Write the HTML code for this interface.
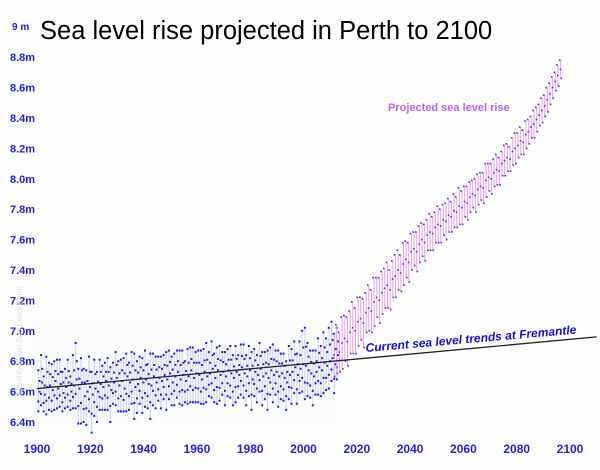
<!DOCTYPE html>
<html><head><meta charset="utf-8"><style>
html,body{margin:0;padding:0;background:#fff;}
svg{display:block;font-family:"Liberation Sans",sans-serif;}
</style></head><body>
<svg id="chart" width="600" height="470" viewBox="0 0 600 470">
<rect x="0" y="0" width="600" height="470" fill="#fefefe"/>
<rect x="30" y="316" width="305" height="110" fill="#fcfcfc"/>
<text x="40" y="39" font-size="25.5" fill="#000">Sea level rise projected in Perth to 2100</text>
<g id="yaxis"></g>
<g id="xaxis"></g>
<g id="hist"></g>
<g id="proj"></g>
<line id="trend" stroke="#222" stroke-width="1.3"/>
<text x="388" y="111" font-size="11" font-weight="bold" fill="#c060f0">Projected sea level rise</text>
<text x="366" y="352" font-size="12" font-weight="bold" font-style="italic" fill="#1010e0" transform="rotate(-5 366 352)">Current sea level trends at Fremantle</text>
<text x="22" y="395" font-size="8" fill="#ddd" transform="rotate(-90 22 395)">Monthly Mean Sea Level (mm)</text>
</svg>
<script>
const yTicks=[6.4,6.6,6.8,7.0,7.2,7.4,7.6,7.8,8.0,8.2,8.4,8.6,8.8];
const yLabels=["6.4m","6.6m","6.8m","7.0m","7.2m","7.4m","7.6m","7.8m","8.0m","8.2m","8.4m","8.6m","8.8m"];
const xTicks=[1900,1920,1940,1960,1980,2000,2020,2040,2060,2080,2100];
const histStart=1900;
const histMean=[6.60,6.66,6.58,6.63,6.64,6.61,6.67,6.62,6.65,6.59,
6.63,6.66,6.60,6.64,6.68,6.62,6.66,6.57,6.60,6.63,
6.58,6.62,6.60,6.65,6.63,6.67,6.64,6.61,6.66,6.69,
6.64,6.67,6.62,6.70,6.66,6.68,6.63,6.65,6.69,6.66,
6.68,6.65,6.64,6.70,6.66,6.69,6.67,6.71,6.68,6.72,
6.66,6.70,6.73,6.68,6.71,6.67,6.70,6.74,6.69,6.72,
6.71,6.68,6.73,6.70,6.72,6.75,6.69,6.74,6.71,6.73,
6.70,6.74,6.72,6.69,6.73,6.71,6.76,6.72,6.70,6.74,
6.68,6.73,6.71,6.75,6.70,6.72,6.69,6.74,6.71,6.73,
6.70,6.72,6.69,6.66,6.71,6.73,6.76,6.71,6.75,6.78,
6.77,6.74,6.72,6.70,6.73,6.76,6.74,6.79,6.77,6.80,
6.82,6.78,6.84];
const histHi=[0.14,0.18,0.12,0.20,0.15,0.17,0.13,0.19,0.16,0.14,
0.12,0.15,0.10,0.20,0.24,0.13,0.16,0.18,0.14,0.20,
0.15,0.19,0.13,0.16,0.14,0.12,0.18,0.15,0.13,0.17,
0.16,0.14,0.20,0.15,0.13,0.18,0.22,0.15,0.14,0.16,
0.19,0.13,0.21,0.15,0.17,0.14,0.16,0.13,0.18,0.15,
0.17,0.15,0.14,0.19,0.16,0.13,0.18,0.15,0.20,0.14,
0.16,0.19,0.15,0.22,0.14,0.18,0.16,0.15,0.19,0.13,
0.16,0.14,0.18,0.15,0.17,0.13,0.15,0.19,0.14,0.16,
0.18,0.15,0.13,0.17,0.16,0.14,0.18,0.15,0.20,0.14,
0.17,0.13,0.16,0.14,0.19,0.15,0.17,0.14,0.18,0.22,
0.25,0.18,0.15,0.17,0.14,0.19,0.16,0.20,0.18,0.22,
0.24,0.20,0.18];
const histLo=[0.13,0.15,0.11,0.18,0.16,0.14,0.19,0.13,0.15,0.12,
0.14,0.16,0.12,0.15,0.19,0.23,0.27,0.17,0.22,0.16,
0.25,0.18,0.20,0.17,0.15,0.19,0.16,0.21,0.14,0.18,
0.17,0.20,0.15,0.23,0.18,0.16,0.21,0.19,0.17,0.20,
0.18,0.16,0.22,0.19,0.17,0.15,0.18,0.16,0.20,0.17,
0.15,0.19,0.17,0.16,0.20,0.14,0.18,0.21,0.16,0.19,
0.18,0.16,0.21,0.17,0.15,0.19,0.16,0.22,0.17,0.15,
0.19,0.17,0.16,0.18,0.20,0.15,0.18,0.16,0.19,0.17,
0.20,0.16,0.18,0.15,0.19,0.17,0.21,0.16,0.18,0.15,
0.20,0.17,0.15,0.18,0.16,0.21,0.17,0.19,0.16,0.18,
0.22,0.17,0.16,0.19,0.15,0.18,0.17,0.20,0.16,0.18,
0.15,0.19,0.16];
const projStart=2011;
const projMean=[6.84,6.88,6.86,6.92,6.95,6.93,6.99,7.02,7.00,7.06,
7.08,7.05,7.12,7.15,7.13,7.19,7.22,7.20,7.25,7.28,
7.30,7.27,7.34,7.36,7.40,7.38,7.44,7.47,7.45,7.52,
7.54,7.52,7.57,7.60,7.58,7.63,7.65,7.64,7.68,7.70,
7.69,7.73,7.72,7.76,7.75,7.79,7.78,7.82,7.81,7.85,
7.84,7.88,7.90,7.89,7.93,7.95,7.94,7.99,8.01,8.00,
8.04,8.06,8.05,8.10,8.12,8.14,8.13,8.18,8.20,8.22,
8.25,8.24,8.29,8.31,8.34,8.36,8.39,8.42,8.45,8.48,
8.52,8.56,8.60,8.64,8.68,8.72];
const projSpread=[0.14,0.16,0.13,0.17,0.15,0.16,0.14,0.17,0.15,0.16,
0.14,0.16,0.13,0.15,0.14,0.16,0.13,0.15,0.14,0.13,
0.15,0.13,0.12,0.14,0.13,0.12,0.14,0.12,0.13,0.12,
0.11,0.13,0.12,0.11,0.12,0.10,0.12,0.11,0.10,0.12,
0.11,0.10,0.12,0.11,0.10,0.11,0.10,0.12,0.11,0.10,
0.11,0.10,0.09,0.11,0.10,0.09,0.10,0.11,0.09,0.10,
0.09,0.10,0.09,0.08,0.10,0.09,0.08,0.09,0.10,0.08,
0.09,0.08,0.09,0.08,0.07,0.09,0.08,0.07,0.08,0.07,
0.08,0.07,0.07,0.06,0.07,0.06];
const trendStart=[1900,6.62];
const trendEnd=[2110,6.96];

const NS="http://www.w3.org/2000/svg";
function X(yr){return 37+(yr-1900)*2.665;}
function Y(v){return 422-(v-6.4)*152;}
function mk(tag,attrs,parent){const e=document.createElementNS(NS,tag);for(const k in attrs)e.setAttribute(k,attrs[k]);parent.appendChild(e);return e;}

const ya=document.getElementById('yaxis');
yTicks.forEach((v,i)=>{
  const t=mk('text',{x:10,y:Y(v)+4,'font-size':11,'font-weight':'bold',fill:'#2020f0'},ya);
  
  
  t.textContent=yLabels[i];
});
const t9=mk('text',{x:12,y:30,'font-size':10,'font-weight':'bold',fill:'#2020f0'},ya);


t9.textContent='9 m';

const xa=document.getElementById('xaxis');
xTicks.forEach(yr=>{
  const t=mk('text',{x:X(yr),y:453,'font-size':12,'font-weight':'bold',fill:'#2020f0','text-anchor':'middle'},xa);
  
  
  t.textContent=yr;
});

const hg=document.getElementById('hist');
histMean.forEach((m,i)=>{
  const x=X(histStart+i+0.5);
  const hi=m+histHi[i], lo=m-histLo[i];
  const l=mk('line',{x1:x,x2:x,y1:Y(hi),y2:Y(lo),stroke:'#d4d4f6','stroke-width':1.2},hg);
  
  
  [hi,m,lo,(m+hi)/2,(m+lo)/2].forEach((v,j)=>{
    const c=mk('rect',{x:x-1+(j%2)*1.2,y:Y(v)-1,width:2,height:2,fill:'#1a1aff'},hg);
    
    
  });
});

const pg=document.getElementById('proj');
projMean.forEach((m,i)=>{
  const x=X(projStart+i+0.5);
  const hi=m+projSpread[i], lo=m-projSpread[i];
  const l=mk('line',{x1:x,x2:x,y1:Y(hi),y2:Y(lo),stroke:'#ec9cf6','stroke-width':1},pg);
  
  
  [hi,m,lo].forEach((v,j)=>{
    const c=mk('rect',{x:x-1+(j-1)*0.8,y:Y(v)-0.8,width:1.6,height:1.6,fill:'#5030e8'},pg);
    
    
  });
});

const tr=document.getElementById('trend');
tr.setAttribute('x1',X(trendStart[0]));tr.setAttribute('y1',Y(trendStart[1]));
tr.setAttribute('x2',X(trendEnd[0]));tr.setAttribute('y2',Y(trendEnd[1]));
</script>
</body></html>
